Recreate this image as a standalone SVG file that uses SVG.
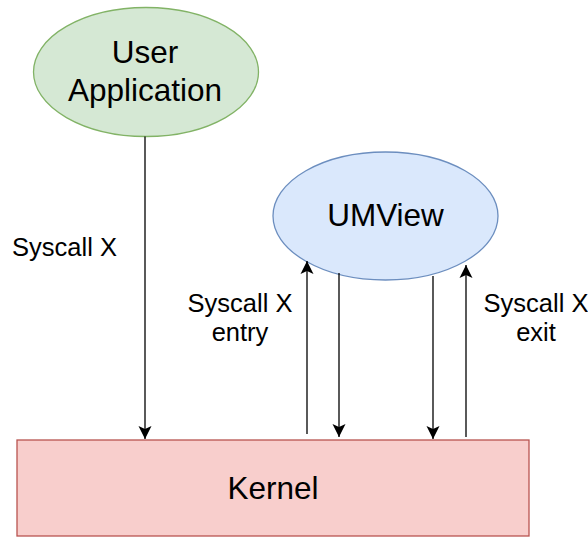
<svg xmlns="http://www.w3.org/2000/svg" width="588" height="538" viewBox="0 0 588 538">
<style>
  text { font-family: "Liberation Sans", Arial, Helvetica, sans-serif; fill: #000; }
  .node { font-size: 31.5px; text-anchor: middle; }
  .lbl { font-size: 25.5px; text-anchor: middle; }
  .edge { stroke: #000; stroke-width: 1.3; fill: none; marker-end: url(#arrow); }
</style>
<defs>
  <marker id="arrow" markerUnits="userSpaceOnUse" viewBox="-14 -8 15 16" refX="0" refY="0" markerWidth="15" markerHeight="16" orient="auto">
    <path d="M0,0 L-13,-6.5 L-10,0 L-13,6.5 Z" fill="#000"/>
  </marker>
</defs>
<rect width="588" height="538" fill="#fff"/>
<g id="user-app">
  <ellipse cx="146" cy="72" rx="112.5" ry="64.5" fill="#d5e8d4" stroke="#82b366" stroke-width="1.3"/>
  <text class="node" x="145" y="63">User</text>
  <text class="node" x="145" y="101">Application</text>
</g>
<g id="umview">
  <ellipse cx="385.5" cy="216" rx="112.5" ry="64" fill="#dae8fc" stroke="#6c8ebf" stroke-width="1.3"/>
  <text class="node" x="385.5" y="226">UMView</text>
</g>
<g id="kernel">
  <rect x="17" y="440" width="512" height="96" fill="#f8cecc" stroke="#b85450" stroke-width="1.3"/>
  <text class="node" x="273" y="499">Kernel</text>
</g>
<g id="connectors">
  <path class="edge" d="M145,136.5 L145,439"/>
  <path class="edge" d="M307,434 L307,261"/>
  <path class="edge" d="M339,273 L339,437"/>
  <path class="edge" d="M433,276 L433,439"/>
  <path class="edge" d="M466,437 L466,265"/>
  <text class="lbl" x="64.5" y="256">Syscall X</text>
  <text class="lbl" x="240" y="312">Syscall X</text>
  <text class="lbl" x="240" y="341">entry</text>
  <text class="lbl" x="536" y="312">Syscall X</text>
  <text class="lbl" x="536" y="341">exit</text>
</g>
</svg>
